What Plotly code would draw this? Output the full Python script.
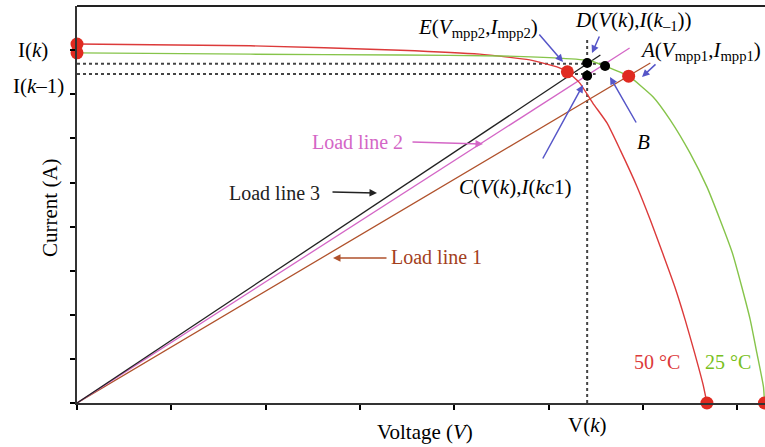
import plotly.graph_objects as go

# ---- data (voltage / current in arbitrary units) ----
v50 = [0.0, 1.84, 3.43, 4.27, 4.80, 5.09, 5.20, 5.33, 5.47, 5.62, 5.76, 5.94,
       6.08, 6.21, 6.34, 6.45, 6.55, 6.64, 6.68]
i50 = [8.14, 8.10, 8.00, 7.91, 7.78, 7.62, 7.51, 7.26, 6.80, 6.35, 5.74, 4.90,
       4.15, 3.40, 2.63, 1.88, 1.13, 0.41, 0.0]
v25 = [0.0, 1.84, 3.43, 4.49, 5.12, 5.44, 5.60, 5.85, 6.11, 6.29, 6.50, 6.68,
       6.82, 6.95, 7.05, 7.14, 7.21, 7.28, 7.29]
i25 = [7.94, 7.91, 7.89, 7.87, 7.82, 7.76, 7.64, 7.41, 6.94, 6.42, 5.67, 4.90,
       4.15, 3.40, 2.63, 1.88, 1.13, 0.36, 0.0]

load_names = ["Load line 1", "Load line 2", "Load line 3"]
load_v_end = [6.08, 5.86, 5.55]
load_i_end = [7.71, 8.05, 7.89]

red_pts_v = [0.0, 0.0, 5.20, 5.85, 6.68, 7.29]
red_pts_i = [8.14, 7.94, 7.51, 7.41, 0.0, 0.0]
black_pts_v = [5.41, 5.41, 5.60]
black_pts_i = [7.71, 7.42, 7.64]

v_k = 5.41
i_k = 7.69
i_k1 = 7.46

x_ticks = [0, 1, 2, 3, 4, 5, 6, 7]
y_ticks = [0, 1, 2, 3, 4, 5, 6, 7, 8]

# ---- geometry helpers (pixel -> data) ----
X0, XS = 77, 94.3
Y0, YS = 403, 44.1
def dx(px): return (px - X0) / XS
def dy(py): return (Y0 - py) / YS

SERIF = "Liberation Serif"
RED = "#dc3a3a"
GREEN = "#86c44a"
BLACK = "#222222"
MAG = "#d466c6"
BROWN = "#b0522c"
BLUE = "#5656c8"
DOT = "#444444"

fig = go.Figure()

# dotted guide lines
fig.add_trace(go.Scatter(x=[0, 5.58], y=[i_k, i_k], mode="lines",
                         line=dict(color=DOT, width=2, dash="dot"), hoverinfo="skip"))
fig.add_trace(go.Scatter(x=[0, 5.5], y=[i_k1, i_k1], mode="lines",
                         line=dict(color=DOT, width=2, dash="dot"), hoverinfo="skip"))
fig.add_trace(go.Scatter(x=[v_k, v_k], y=[0, 8.28], mode="lines",
                         line=dict(color=DOT, width=2, dash="dot"), hoverinfo="skip"))

# load lines
for name, ve, ie, col in zip(load_names, load_v_end, load_i_end, [BROWN, MAG, BLACK]):
    fig.add_trace(go.Scatter(x=[0, ve], y=[0, ie], mode="lines", name=name,
                             line=dict(color=col, width=1.3)))

# I-V curves
fig.add_trace(go.Scatter(x=v50, y=i50, mode="lines", line=dict(color=RED, width=1.4, shape="spline", smoothing=0.5)))
fig.add_trace(go.Scatter(x=v25, y=i25, mode="lines", line=dict(color=GREEN, width=1.4, shape="spline", smoothing=0.5)))

# points
fig.add_trace(go.Scatter(x=red_pts_v, y=red_pts_i, mode="markers", cliponaxis=False,
                         marker=dict(color="#e02a20", size=13)))
fig.add_trace(go.Scatter(x=black_pts_v, y=black_pts_i, mode="markers", cliponaxis=False,
                         marker=dict(color="#000000", size=10)))

ann = []
def text(px, py, t, color="black", size=21, xanchor="center"):
    ann.append(dict(x=dx(px), y=dy(py), xref="x", yref="y", text=t, showarrow=False,
                    xanchor=xanchor, yanchor="middle",
                    font=dict(family=SERIF, size=size, color=color)))
def arrow(hx, hy, tx, ty, color=BLUE, head=2, width=1.5):
    ann.append(dict(x=dx(hx), y=dy(hy), xref="x", yref="y", ax=tx - hx, ay=ty - hy,
                    text="", showarrow=True, arrowhead=head, arrowsize=1,
                    arrowwidth=width, arrowcolor=color))

text(416, 28, "<i>E</i>(<i>V</i><sub>mpp2</sub>,<i>I</i><sub>mpp2</sub>)", xanchor="left")
text(573, 21, "<i>D</i>(<i>V</i>(<i>k</i>),<i>I</i>(<i>k</i><sub>–1</sub>))", xanchor="left")
text(638, 51, "<i>A</i>(<i>V</i><sub>mpp1</sub>,<i>I</i><sub>mpp1</sub>)", xanchor="left")
text(643, 142, "<i>B</i>")
text(457, 187, "<i>C</i>(<i>V</i>(<i>k</i>),<i>I</i>(<i>kc</i>1)", xanchor="left")
text(310, 142, "Load line 2", color=MAG, size=20, xanchor="left")
text(227, 193, "Load line 3", color=BLACK, size=20, xanchor="left")
text(389, 257, "Load line 1", color="#a3401c", size=20, xanchor="left")
text(657, 362, "50 °C", color=RED, size=20)
text(728, 362, "25 °C", color="#78c020", size=20)

arrow(563, 62, 538, 33)
arrow(592, 53, 600, 35)
arrow(642, 77, 657, 63)
arrow(610, 77, 637, 124)
arrow(583, 85, 542, 160)
arrow(483, 144, 411, 142, color=MAG, head=2)
arrow(377, 193, 331, 192, color=BLACK, head=2)
arrow(333, 258, 388, 258, color=BROWN, head=2)

# outside labels (paper coordinates via pixel positions)
W, H = 765, 447
L, R, T, B = 77, 0, 6, 44
def pxp(px): return (px - L) / (W - L - R)
def pyp(py): return (H - B - py) / (H - T - B)
def ptext(px, py, t, size=21, angle=0):
    ann.append(dict(x=pxp(px), y=pyp(py), xref="paper", yref="paper", text=t,
                    showarrow=False, xanchor="center", yanchor="middle", textangle=angle,
                    font=dict(family=SERIF, size=size, color="black")))
ptext(33, 50, "I(<i>k</i>)")
ptext(38, 86, "I(<i>k</i>–1)")
ptext(50, 208, "Current (A)", angle=-90)
ptext(425, 432, "Voltage (<i>V</i>)")
ptext(587, 425, "V(<i>k</i>)")

fig.update_layout(
    width=W, height=H,
    margin=dict(l=L, r=R, t=T, b=B, pad=0),
    paper_bgcolor="white", plot_bgcolor="white",
    showlegend=False,
    annotations=ann,
    shapes=[dict(type="line", xref="paper", yref="paper", x0=0, x1=1, y0=1, y1=1,
                 line=dict(color="#222", width=2))],
    xaxis=dict(range=[0, (W - L - R) / XS], showgrid=False, zeroline=False,
               showline=True, linecolor="#333", linewidth=2,
               tickmode="array", tickvals=x_ticks, ticktext=[""] * len(x_ticks),
               ticks="outside", ticklen=5, tickwidth=2, tickcolor="black"),
    yaxis=dict(range=[0, (H - T - B) / YS], showgrid=False, zeroline=False,
               showline=True, linecolor="#333", linewidth=2,
               tickmode="array", tickvals=y_ticks, ticktext=[""] * len(y_ticks),
               ticks="outside", ticklen=5, tickwidth=2, tickcolor="black"),
)

fig.write_html("out.html")
